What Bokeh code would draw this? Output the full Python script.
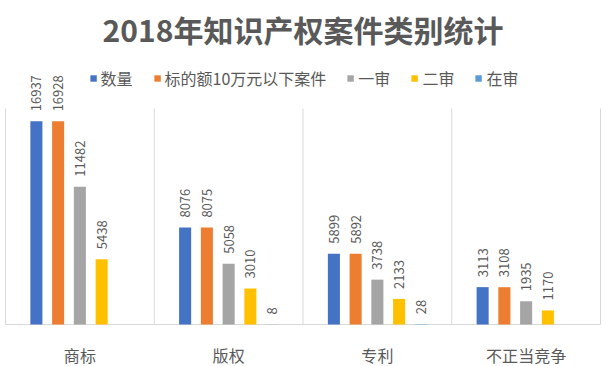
import math
import numpy as np
from bokeh.plotting import figure
from bokeh.models import Range1d, Legend, LegendItem, Label, ColumnDataSource
from bokeh.core.properties import value
from bokeh.embed import file_html
from bokeh.resources import INLINE

# ---- data ----
categories = ["商标", "版权", "专利", "不正当竞争"]
series_names = ["数量", "标的额10万元以下案件", "一审", "二审", "在审"]
shuliang = [16937, 8076, 5899, 3113]
biaodi = [16928, 8075, 5892, 3108]
yishen = [11482, 5058, 3738, 1935]
ershen = [5438, 3010, 2133, 1170]
zaishen = [float("nan"), 8, 28, float("nan")]
title_text = "2018年知识产权案件类别统计"
y_max = 18000

# ---- style / layout ----
colors = ["#4472C4", "#ED7D31", "#A5A5A5", "#FFC000", "#5B9BD5"]
FONT = "Noto Sans CJK SC"
TXT = "#595959"
GRID = "#D9D9D9"
W, H = 607, 366
base_px = 42          # baseline distance from figure bottom
plot_px = 216         # pixels used by y_max
upp = y_max / plot_px
y_start = -base_px * upp
y_end = y_start + H * upp
cat_px = 148.75
x_start = -5 / cat_px
x_end = 4 + 7 / cat_px

p = figure(width=W, height=H, output_backend="svg", toolbar_location=None,
           x_range=Range1d(x_start, x_end), y_range=Range1d(y_start, y_end),
           min_border_left=0, min_border_right=0, min_border_top=0, min_border_bottom=0)
p.xaxis.visible = False
p.yaxis.visible = False
p.xgrid.visible = False
p.ygrid.visible = False
p.outline_line_color = None
p.background_fill_color = "white"
p.border_fill_color = "white"

ncat = len(categories)
idx = np.arange(ncat)

# category separators and baseline
p.segment(x0=list(range(ncat + 1)), y0=[0] * (ncat + 1), x1=list(range(ncat + 1)),
          y1=[y_max] * (ncat + 1), line_color=GRID, line_width=1)
p.segment(x0=[0], y0=[0], x1=[ncat], y1=[0], line_color=GRID, line_width=1)

series = [shuliang, biaodi, yishen, ershen, zaishen]
step = 0.1462
bw = 0.081
items = []
for i, (name, vals) in enumerate(zip(series_names, series)):
    xs = idx + 0.5 + (i - 2) * step
    vals = np.array(vals, dtype=float)
    src = ColumnDataSource(dict(x=xs, top=vals))
    r = p.vbar(x="x", top="top", bottom=0, width=bw, source=src,
               fill_color=colors[i], line_color=None)
    items.append(LegendItem(label=name, renderers=[r]))
    mask = ~np.isnan(vals)
    lsrc = ColumnDataSource(dict(x=xs[mask], y=vals[mask],
                                 t=[str(int(v)) for v in vals[mask]]))
    p.text(x="x", y="y", text="t", source=lsrc, angle=math.pi / 2,
           text_align="left", text_baseline="middle", y_offset=-10,
           text_font=value(FONT), text_font_size="13px", text_color=TXT)

# category labels
csrc = ColumnDataSource(dict(x=idx + 0.5, y=[0] * ncat, t=categories))
p.text(x="x", y="y", text="t", source=csrc, text_align="center",
       text_baseline="middle", y_offset=30, text_font=value(FONT),
       text_font_size="16px", text_color=TXT)

legend = Legend(items=items, orientation="horizontal", location="top_center",
                margin=66, padding=0, spacing=20, glyph_width=8, glyph_height=8,
                label_standoff=4, label_height=16,
                label_text_font=FONT, label_text_font_size="16px",
                label_text_color=TXT, border_line_color=None,
                background_fill_alpha=0)
p.add_layout(legend)

p.add_layout(Label(x=302.5, y=H - 28, x_units="screen", y_units="screen",
                   text=title_text, text_align="center", text_baseline="middle",
                   text_font=FONT, text_font_size="30px", text_font_style="bold",
                   text_color=TXT))

open("out.html", "w").write(file_html(p, INLINE))
